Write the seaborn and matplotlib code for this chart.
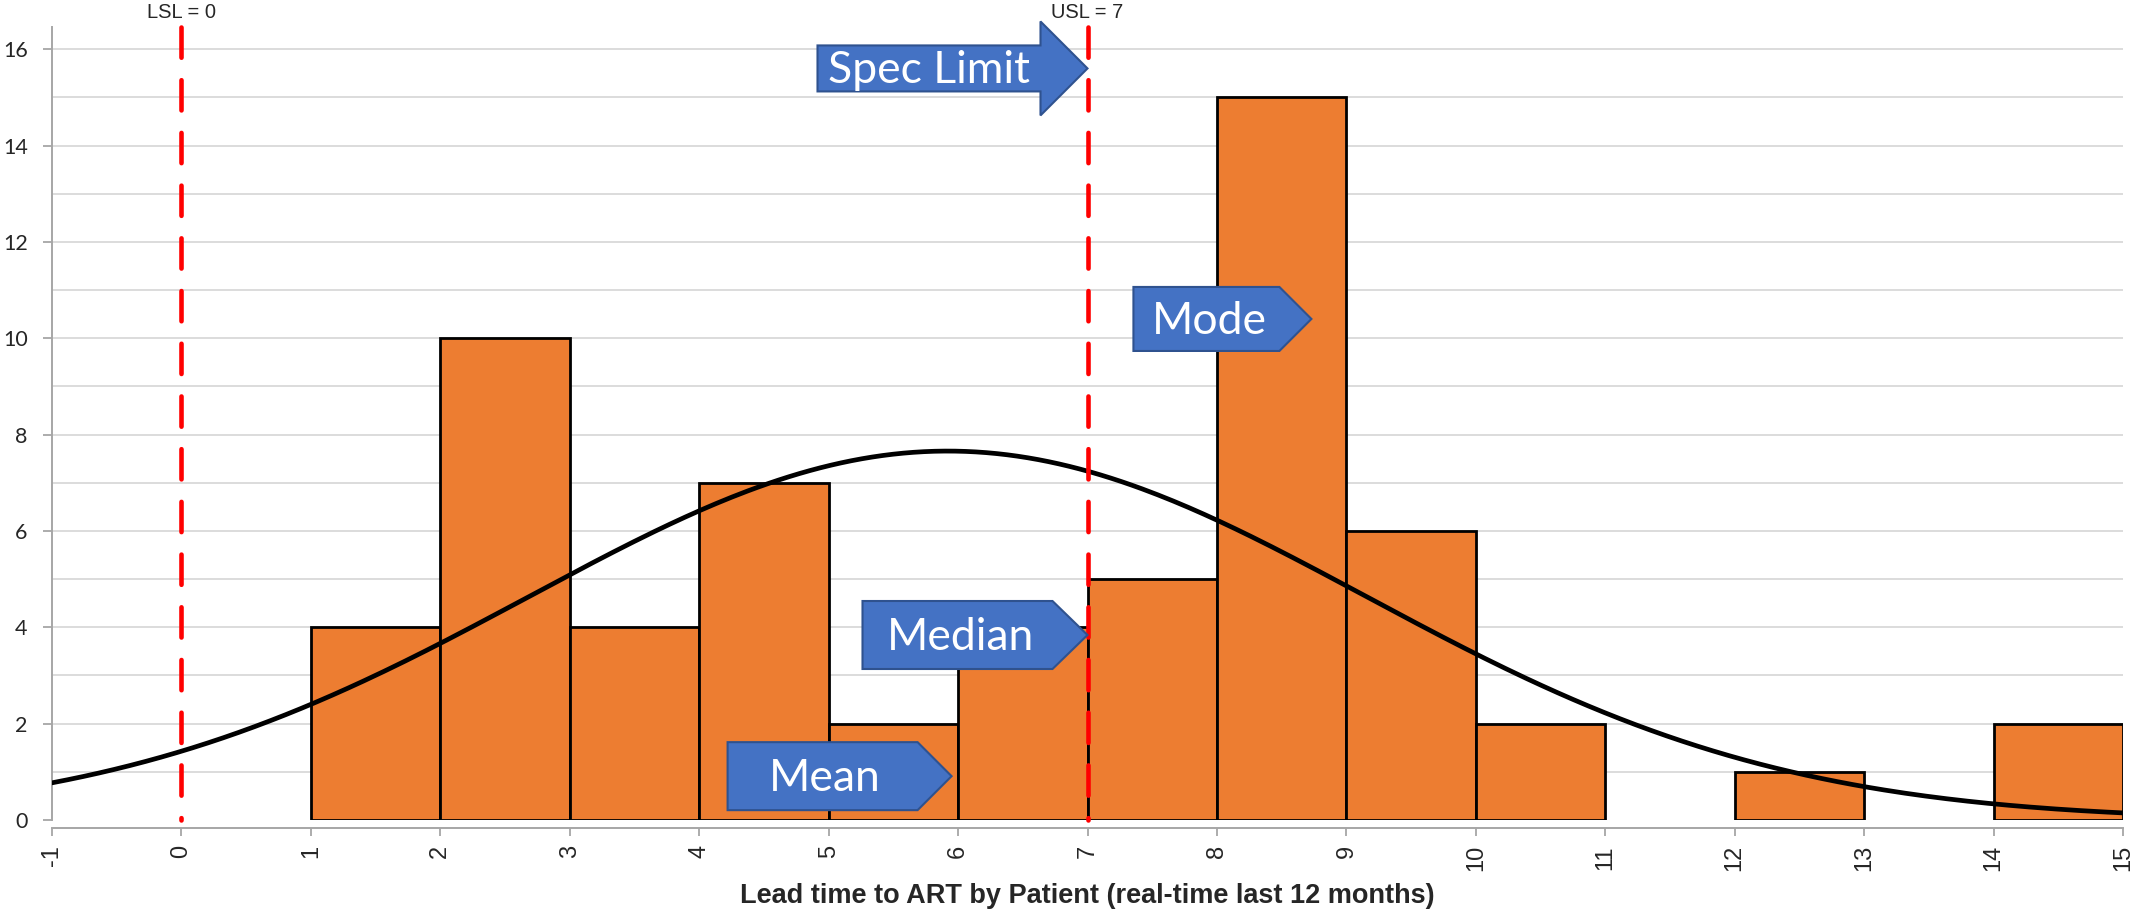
import numpy as np
import pandas as pd
import matplotlib
matplotlib.use("Agg")
import matplotlib.pyplot as plt
import matplotlib.transforms as mtransforms
from matplotlib.patches import Polygon
import seaborn as sns

# ---------------- data ----------------
bin_edges = list(range(-1, 16))
bin_left = [1, 2, 3, 4, 5, 6, 7, 8, 9, 10, 12, 14]
counts = [4, 10, 4, 7, 2, 4, 5, 15, 6, 2, 1, 2]
fit_mean = 5.92
fit_sd = 3.23
lsl = 0
usl = 7
x_tick_labels = [str(v) for v in range(-1, 16)]
y_tick_labels = [str(v) for v in range(0, 17, 2)]
x_label = "Lead time to ART by Patient (real-time last 12 months)"

# callouts: (text, tip x, tip y)
callouts = [("Mean", 5.95, 0.91), ("Median", 7.0, 3.84), ("Mode", 8.73, 10.4)]
spec_callout = ("Spec Limit", 7.0, 15.6)

# ---------------- figure ----------------
sns.set_style("white")
plt.rcParams["font.family"] = ["Liberation Sans", "DejaVu Sans"]

W, H, DPI = 2131, 918, 100
fig = plt.figure(figsize=(W / DPI, H / DPI), dpi=DPI)
ax_l, ax_r, ax_b, ax_t = 52, 2123, 820, 27
ax = fig.add_axes([ax_l / W, (H - ax_b) / H, (ax_r - ax_l) / W, (ax_b - ax_t) / H])
ymax = 16.46

df = pd.DataFrame({"x": [b + 0.5 for b in bin_left], "n": counts})
sns.histplot(data=df, x="x", weights="n", bins=bin_edges, color="#ED7D31",
             edgecolor="black", linewidth=2.0, alpha=1, ax=ax, zorder=2)
for p in list(ax.patches):
    if p.get_height() == 0:
        p.remove()

# fitted normal curve
total = sum(counts)
xs = np.linspace(-1, 15, 400)
ys = total * 1.0 / (fit_sd * np.sqrt(2 * np.pi)) * np.exp(-0.5 * ((xs - fit_mean) / fit_sd) ** 2)
sns.lineplot(x=xs, y=ys, color="black", linewidth=3.4, ax=ax, zorder=3)

# spec limit lines
for v in (lsl, usl):
    ax.plot([v, v], [ymax, 0], color="#FF0000", lw=3.3, dashes=[6.6, 4.9],
            dash_capstyle="round", zorder=4, clip_on=False)

# axes styling (spine position first: it resets ticks)
for s in ("top", "right"):
    ax.spines[s].set_visible(False)
for s in ("left", "bottom"):
    ax.spines[s].set_color("#A6A6A6")
    ax.spines[s].set_linewidth(1.4)
ax.spines["bottom"].set_position(("outward", 6))

ax.set_xlim(-1, 15)
ax.set_ylim(0, ymax)
ax.set_xticks(range(-1, 16))
ax.set_xticklabels(x_tick_labels)
ax.set_yticks(range(0, 17, 2))
ax.set_yticklabels(y_tick_labels)
ax.set_yticks(range(1, 17), minor=True)
ax.yaxis.grid(True, which="both", color="#D9D9D9", lw=1.3, zorder=0)
ax.set_axisbelow(True)
ax.tick_params(axis="y", which="major", left=True, length=6.5, width=1.3,
               color="#A6A6A6", pad=11, labelsize=15.5)
ax.tick_params(axis="y", which="minor", left=False, length=0)
ax.tick_params(axis="x", bottom=True, length=6, width=1.3, color="#A6A6A6", pad=6,
               labelsize=17, labelrotation=90)
for lbl in ax.get_yticklabels():
    lbl.set_family(["Lato", "DejaVu Sans"])
ax.set_xlabel(x_label, fontsize=19.5, fontweight="bold")
ax.xaxis.set_label_coords(0.5, -0.080)
ax.set_ylabel("")

trans = mtransforms.blended_transform_factory(ax.transData, ax.transAxes)
ax.text(lsl, 1.018, f"LSL = {lsl}", transform=trans, ha="center", va="center", fontsize=14.5)
ax.text(usl, 1.018, f"USL = {usl}", transform=trans, ha="center", va="center", fontsize=14.5)

fig.canvas.draw()
gl = ax.yaxis.get_gridlines()
if len(gl):
    gl[0].set_visible(False)

# callout shapes (sizes in pixels, converted to data units)
pxx = (ax_r - ax_l) / 16.0
pxy = (ax_b - ax_t) / ymax
face, edge = "#4472C4", "#2F528F"

def pentagon(label, tx, ty, length, head, height, fs):
    L, Hd, h = length / pxx, head / pxx, height / 2 / pxy
    verts = [(tx - L, ty + h), (tx - Hd, ty + h), (tx, ty), (tx - Hd, ty - h), (tx - L, ty - h)]
    ax.add_patch(Polygon(verts, closed=True, facecolor=face, edgecolor=edge, lw=1.5,
                         zorder=6, clip_on=False))
    ax.text(tx - L + (L - Hd) / 2 + 0.02, ty - 0.05, label, color="white", fontsize=fs,
            ha="center", va="center", family=["Lato", "DejaVu Sans"], zorder=7)

pentagon(callouts[0][0], callouts[0][1], callouts[0][2], 224, 34, 68, 32)
pentagon(callouts[1][0], callouts[1][1], callouts[1][2], 225, 35, 68, 32)
pentagon(callouts[2][0], callouts[2][1], callouts[2][2], 178, 32, 64, 32)

# block arrow for spec limit
lab, tx, ty = spec_callout
L, Hd = 270 / pxx, 47 / pxx
hb, hh = 23 / pxy, 47 / pxy
verts = [(tx - L, ty + hb), (tx - Hd, ty + hb), (tx - Hd, ty + hh), (tx, ty),
         (tx - Hd, ty - hh), (tx - Hd, ty - hb), (tx - L, ty - hb)]
ax.add_patch(Polygon(verts, closed=True, facecolor=face, edgecolor=edge, lw=1.5,
                     zorder=6, clip_on=False))
ax.text(tx - L + (L - Hd) / 2, ty - 0.05, lab, color="white", fontsize=32,
        ha="center", va="center", family=["Lato", "DejaVu Sans"], zorder=7)

fig.savefig("out.png", dpi=DPI)
